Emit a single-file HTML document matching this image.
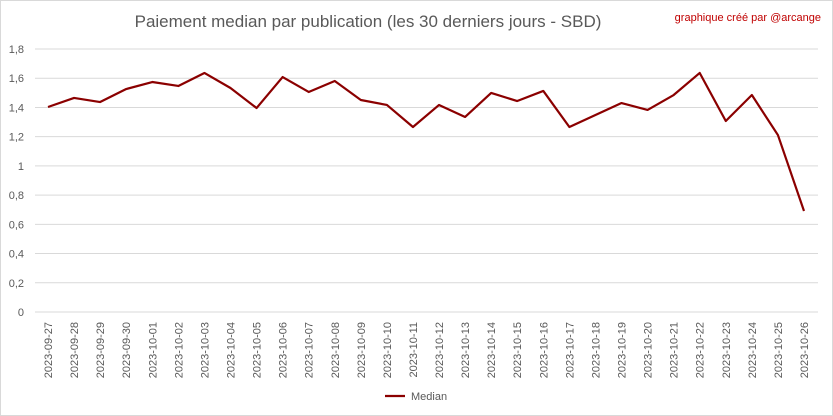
<!DOCTYPE html>
<html><head><meta charset="utf-8"><style>
body{margin:0;background:#fff;font-family:"Liberation Sans",sans-serif}
svg{display:block}
</style></head><body>
<svg id="c" width="833" height="416" xmlns="http://www.w3.org/2000/svg">
<rect x="0.5" y="0.5" width="832" height="415" fill="#fff" stroke="#d9d9d9"/>
<text x="368" y="27" text-anchor="middle" font-size="17" fill="#595959">Paiement median par publication (les 30 derniers jours - SBD)</text>
<text x="821" y="21" text-anchor="end" font-size="11" fill="#c00000">graphique créé par @arcange</text>
<g id="grid"></g><g id="xl"></g><g id="series"></g>
<line x1="385" y1="396" x2="405" y2="396" stroke="#8b0000" stroke-width="2.2"/>
<text x="411" y="400" font-size="11" fill="#595959">Median</text>
</svg>
<script>
const categories=["2023-09-27","2023-09-28","2023-09-29","2023-09-30","2023-10-01","2023-10-02","2023-10-03","2023-10-04","2023-10-05","2023-10-06","2023-10-07","2023-10-08","2023-10-09","2023-10-10","2023-10-11","2023-10-12","2023-10-13","2023-10-14","2023-10-15","2023-10-16","2023-10-17","2023-10-18","2023-10-19","2023-10-20","2023-10-21","2023-10-22","2023-10-23","2023-10-24","2023-10-25","2023-10-26"];
const medianValues=[1.403,1.465,1.437,1.526,1.574,1.547,1.636,1.533,1.396,1.608,1.506,1.581,1.451,1.417,1.266,1.417,1.335,1.499,1.444,1.513,1.266,1.348,1.43,1.383,1.485,1.636,1.307,1.485,1.211,0.691];
const yTicks=[0,0.2,0.4,0.6,0.8,1,1.2,1.4,1.6,1.8];
const yTickLabels=["0","0,2","0,4","0,6","0,8","1","1,2","1,4","1,6","1,8"];
const NS="http://www.w3.org/2000/svg";
const y=v=>312-v*(263/1.8);
const x=i=>48+i*(756/29);
const grid=document.getElementById('grid');
yTicks.forEach((t,i)=>{
 const l=document.createElementNS(NS,'line');
 l.setAttribute('x1',35);l.setAttribute('x2',818);l.setAttribute('y1',y(t));l.setAttribute('y2',y(t));
 l.setAttribute('stroke','#d9d9d9');
 
 
 grid.appendChild(l);
 const tx=document.createElementNS(NS,'text');
 tx.setAttribute('x',24);tx.setAttribute('y',y(t)+4);tx.setAttribute('text-anchor','end');
 tx.setAttribute('font-size','11');tx.setAttribute('fill','#595959');
 tx.textContent=yTickLabels[i];
 
 
 grid.appendChild(tx);
});
const xl=document.getElementById('xl');
categories.forEach((c,i)=>{
 const tx=document.createElementNS(NS,'text');
 tx.setAttribute('transform',`translate(${x(i)+4},322) rotate(-90)`);
 tx.setAttribute('text-anchor','end');tx.setAttribute('font-size','11');tx.setAttribute('fill','#595959');
 tx.textContent=c;
 
 
 xl.appendChild(tx);
});
const p=document.createElementNS(NS,'polyline');
p.setAttribute('points',medianValues.map((v,i)=>x(i)+','+y(v)).join(' '));
p.setAttribute('fill','none');p.setAttribute('stroke','#8b0000');p.setAttribute('stroke-width','2.2');
p.setAttribute('stroke-linejoin','round');


document.getElementById('series').appendChild(p);
</script>
</body></html>
